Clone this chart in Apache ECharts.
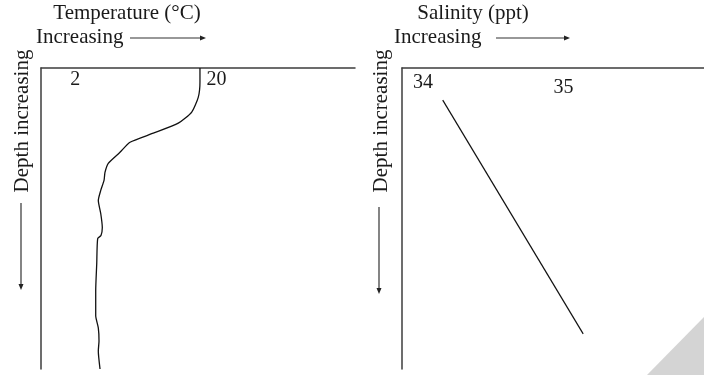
<!DOCTYPE html>
<html>
<head>
<meta charset="utf-8">
<script src="https://cdn.jsdelivr.net/npm/echarts@6/dist/echarts.min.js"></script>
<style>html,body{margin:0;padding:0;background:#fff;}#c{width:704px;height:375px;}</style>
</head>
<body>
<div id="c"></div>
<script>
// Temperature profile (°C) vs relative depth (0 = surface, 300 = bottom of frame)
const tempDepth  = [0, 14, 29, 44, 55, 65, 74, 84, 95, 104, 112, 122, 132, 145, 159, 167, 170, 195, 222, 247, 259, 272, 282, 300];
const tempValues = [20.25, 20.25, 20.04, 19.2, 17.49, 14.31, 11.34, 10.06, 8.57, 8.15, 8.03, 7.61, 7.30, 7.61, 7.81, 7.64, 7.22, 7.10, 6.97, 6.97, 7.30, 7.39, 7.30, 7.52];
// Salinity profile (ppt) vs relative depth
const salDepth  = [32, 265];
const salValues = [34.14, 35.14];
// Tick labels
const tempTicks = [2, 20];
const salTicks  = [34, 35];

const FONT = 'Liberation Serif';
const TXT = '#1a1a1a';
const AX = '#3c3c3c';

const chart = echarts.init(document.getElementById('c'), null, {renderer: 'canvas'});

function arrowH(x1, x2, y) {
  return [
    {type: 'line', shape: {x1: x1, y1: y, x2: x2 - 5, y2: y}, style: {stroke: '#333', lineWidth: 1.2}},
    {type: 'polygon', shape: {points: [[x2 - 6, y - 2.5], [x2, y], [x2 - 6, y + 2.5]]}, style: {fill: '#222'}}
  ];
}
function arrowV(x, y1, y2) {
  return [
    {type: 'line', shape: {x1: x, y1: y1, x2: x, y2: y2 - 5}, style: {stroke: '#333', lineWidth: 1.2}},
    {type: 'polygon', shape: {points: [[x - 2.5, y2 - 6], [x, y2], [x + 2.5, y2 - 6]]}, style: {fill: '#222'}}
  ];
}
function txt(x, y, s, align, rot) {
  return {type: 'text', x: x, y: y, rotation: rot || 0,
    style: {text: s, font: '21px "' + FONT + '"', fill: TXT, align: align || 'center', verticalAlign: 'middle'}};
}

const option = {
  animation: false,
  backgroundColor: '#fff',
  grid: [
    {left: 41, top: 68, width: 314, height: 301},
    {left: 402, top: 68, width: 302, height: 301}
  ],
  xAxis: [
    {
      gridIndex: 0, type: 'value', position: 'top', min: 0, max: 40,
      axisLine: {show: true, onZero: false, lineStyle: {color: AX, width: 1.5}},
      axisTick: {show: false}, splitLine: {show: false},
      axisLabel: {
        show: true, inside: true, customValues: tempTicks, margin: 12,
        verticalAlign: 'middle', padding: [0, 0, 0, 37],
        fontFamily: FONT, fontSize: 20, color: TXT
      }
    },
    {
      gridIndex: 1, type: 'value', position: 'top', min: 33.85, max: 36,
      axisLine: {show: true, onZero: false, lineStyle: {color: AX, width: 1.5}},
      axisTick: {show: false}, splitLine: {show: false},
      axisLabel: {
        show: true, inside: true, customValues: salTicks, margin: 15,
        verticalAlign: 'middle',
        formatter: function (v) { return v === salTicks[0] ? '{a|' + v + '}' : '{b|' + v + '}'; },
        rich: {
          a: {fontFamily: FONT, fontSize: 20, color: TXT},
          b: {fontFamily: FONT, fontSize: 20, color: TXT, padding: [9, 0, 0, 0]}
        }
      }
    }
  ],
  yAxis: [
    {
      gridIndex: 0, type: 'value', inverse: true, min: 0, max: 300,
      axisLine: {show: true, onZero: false, lineStyle: {color: AX, width: 1.5}},
      axisTick: {show: false}, splitLine: {show: false}, axisLabel: {show: false}
    },
    {
      gridIndex: 1, type: 'value', inverse: true, min: 0, max: 300,
      axisLine: {show: true, onZero: false, lineStyle: {color: AX, width: 1.5}},
      axisTick: {show: false}, splitLine: {show: false}, axisLabel: {show: false}
    }
  ],
  series: [
    {
      name: 'Temperature', type: 'line', xAxisIndex: 0, yAxisIndex: 0,
      data: tempValues.map(function (t, i) { return [t, tempDepth[i]]; }),
      showSymbol: false, smooth: 0.2,
      lineStyle: {color: '#111', width: 1.3}
    },
    {
      name: 'Salinity', type: 'line', xAxisIndex: 1, yAxisIndex: 1,
      data: salValues.map(function (s, i) { return [s, salDepth[i]]; }),
      showSymbol: false,
      lineStyle: {color: '#111', width: 1.2}
    }
  ],
  graphic: [].concat(
    [txt(127, 13, 'Temperature (°C)', 'center'),
     txt(36, 37, 'Increasing', 'left'),
     txt(22, 121, 'Depth increasing', 'center', Math.PI / 2),
     txt(473, 13, 'Salinity (ppt)', 'center'),
     txt(394, 37, 'Increasing', 'left'),
     txt(381, 121, 'Depth increasing', 'center', Math.PI / 2)],
    arrowH(130, 206, 38),
    arrowH(496, 570, 38),
    arrowV(21, 203, 290),
    arrowV(379, 207, 294),
    [{type: 'polygon', shape: {points: [[704, 317], [704, 375], [647, 375]]}, style: {fill: '#d4d4d4'}}]
  )
};
chart.setOption(option);
</script>
</body>
</html>
